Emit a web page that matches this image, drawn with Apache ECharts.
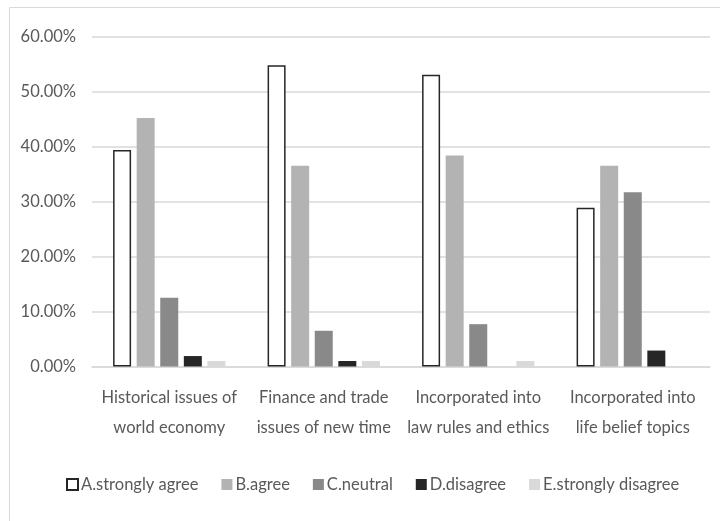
<!DOCTYPE html>
<html>
<head>
<meta charset="utf-8">
<script src="https://cdn.jsdelivr.net/npm/echarts@6/dist/echarts.min.js"></script>
<style>
  html, body { margin: 0; padding: 0; background: #fff; }
  #chart { width: 720px; height: 521px; }
</style>
</head>
<body>
<div id="chart"></div>
<script>
// Survey topics (x axis)
const categories = [
  'Historical issues of\nworld economy',
  'Finance and trade\nissues of new time',
  'Incorporated into\nlaw rules and ethics',
  'Incorporated into\nlife belief topics'
];

// Share of responses per answer, in percent
const stronglyAgree    = [39.4, 54.8, 53.1, 28.9];
const agree            = [45.2, 36.5, 38.4, 36.5];
const neutral          = [12.5, 6.5, 7.7, 31.7];
const disagree         = [1.9, 1.0, 0, 2.9];
const stronglyDisagree = [1.0, 1.0, 1.0, 0];

const seriesNames = ['A.strongly agree', 'B.agree', 'C.neutral', 'D.disagree', 'E.strongly disagree'];

// Y axis ticks
const yMin = 0, yMax = 60, yStep = 10;

const FONT = 'Lato, "Open Sans", sans-serif';
const FONT_SIZE = 16.5;
const TEXT = '#595959';

const chart = echarts.init(document.getElementById('chart'), null, { renderer: 'canvas' });

function bar(name, data, style) {
  return {
    name: name,
    type: 'bar',
    data: data,
    barWidth: 18,
    barGap: '31%',
    itemStyle: style
  };
}

chart.setOption({
  animation: false,
  backgroundColor: '#ffffff',
  graphic: [{
    type: 'rect',
    shape: { x: 9.5, y: 7.5, width: 730, height: 530 },
    style: { fill: 'none', stroke: '#d9d9d9', lineWidth: 1 },
    silent: true
  }],
  grid: { left: 92, right: 10, top: 36.7, bottom: 154.5, containLabel: false },
  legend: {
    data: seriesNames,
    left: 66,
    top: 476,
    padding: 0,
    itemWidth: 11,
    itemHeight: 11,
    itemGap: 23,
    textStyle: { fontFamily: FONT, fontSize: FONT_SIZE, color: TEXT, padding: [0, 0, 0, -2] },
    icon: 'rect'
  },
  xAxis: {
    type: 'category',
    data: categories,
    axisLine: { lineStyle: { color: '#d9d9d9', width: 1.5 } },
    axisTick: { show: false },
    axisLabel: {
      interval: 0,
      margin: 16,
      fontFamily: FONT,
      fontSize: FONT_SIZE,
      color: TEXT,
      lineHeight: 30
    }
  },
  yAxis: {
    type: 'value',
    min: yMin,
    max: yMax,
    interval: yStep,
    axisLine: { show: false },
    axisTick: { show: false },
    splitLine: { lineStyle: { color: '#d9d9d9', width: 1.5 } },
    axisLabel: {
      margin: 16,
      fontFamily: FONT,
      fontSize: FONT_SIZE,
      color: TEXT,
      formatter: v => v.toFixed(2) + '%'
    }
  },
  series: [
    bar(seriesNames[0], stronglyAgree, { color: '#ffffff', borderColor: '#262626', borderWidth: 1.5 }),
    bar(seriesNames[1], agree, { color: '#b3b3b3' }),
    bar(seriesNames[2], neutral, { color: '#898989' }),
    bar(seriesNames[3], disagree, { color: '#262626' }),
    bar(seriesNames[4], stronglyDisagree, { color: '#d9d9d9' })
  ]
});
</script>
</body>
</html>
